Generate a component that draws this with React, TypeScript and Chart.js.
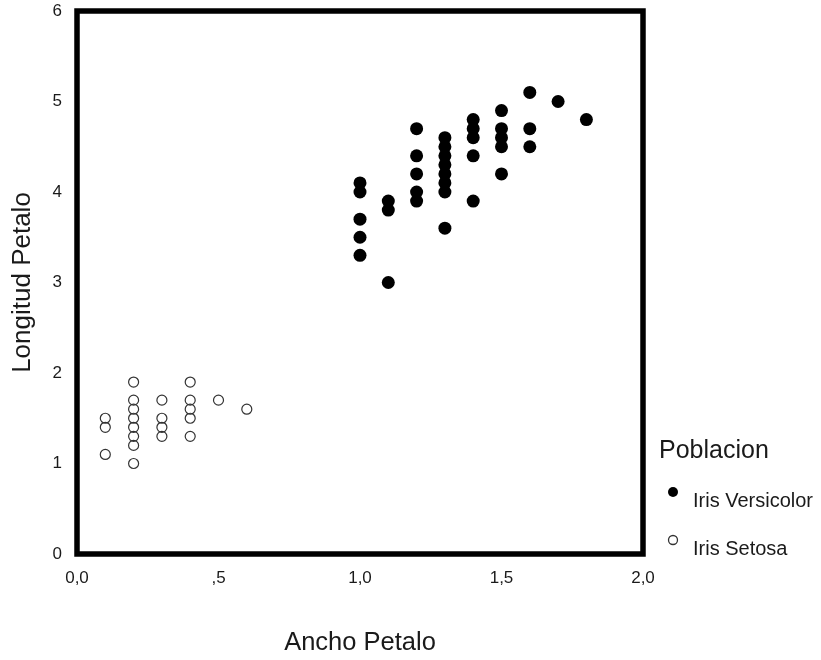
import React, { useEffect, useRef } from "react";
import { Chart, registerables } from "chart.js";

Chart.register(...registerables);

// Iris Versicolor: petal width (x) and petal length (y)
const versicolorWidth = [
  1.0, 1.0, 1.0, 1.0, 1.0,
  1.1, 1.1, 1.1,
  1.2, 1.2, 1.2, 1.2, 1.2,
  1.3, 1.3, 1.3, 1.3, 1.3, 1.3, 1.3, 1.3,
  1.4, 1.4, 1.4, 1.4, 1.4,
  1.5, 1.5, 1.5, 1.5, 1.5,
  1.6, 1.6, 1.6,
  1.7,
  1.8,
];
const versicolorLength = [
  3.3, 3.5, 3.7, 4.0, 4.1,
  3.0, 3.8, 3.9,
  3.9, 4.0, 4.2, 4.4, 4.7,
  3.6, 4.0, 4.1, 4.2, 4.3, 4.4, 4.5, 4.6,
  3.9, 4.4, 4.6, 4.7, 4.8,
  4.2, 4.5, 4.6, 4.7, 4.9,
  4.5, 4.7, 5.1,
  5.0,
  4.8,
];

// Iris Setosa: petal width (x) and petal length (y)
const setosaWidth = [
  0.1, 0.1, 0.1,
  0.2, 0.2, 0.2, 0.2, 0.2, 0.2, 0.2, 0.2,
  0.3, 0.3, 0.3, 0.3,
  0.4, 0.4, 0.4, 0.4, 0.4,
  0.5,
  0.6,
];
const setosaLength = [
  1.1, 1.4, 1.5,
  1.0, 1.2, 1.3, 1.4, 1.5, 1.6, 1.7, 1.9,
  1.3, 1.4, 1.5, 1.7,
  1.3, 1.5, 1.6, 1.7, 1.9,
  1.7,
  1.6,
];

const seriesLabels = ["Iris Versicolor", "Iris Setosa"];
const legendTitle = "Poblacion";
const xTitle = "Ancho Petalo";
const yTitle = "Longitud Petalo";
const xTickValues = [0, 0.5, 1, 1.5, 2];
const xTickLabels = ["0,0", ",5", "1,0", "1,5", "2,0"];
const yTickValues = [0, 1, 2, 3, 4, 5, 6];

const FONT = "'Liberation Sans', Arial, Helvetica, sans-serif";
const TEXT = "#1a1a1a";

const boxPlugin = {
  id: "frameBox",
  beforeDatasetsDraw(chart: any) {
    const { ctx, chartArea } = chart;
    ctx.save();
    ctx.strokeStyle = "#000";
    ctx.lineWidth = 5.5;
    ctx.strokeRect(
      chartArea.left,
      chartArea.top,
      chartArea.right - chartArea.left,
      chartArea.bottom - chartArea.top
    );
    ctx.restore();
  },
};

const legendPlugin = {
  id: "sideLegend",
  afterDraw(chart: any) {
    const { ctx } = chart;
    ctx.save();
    ctx.fillStyle = TEXT;
    ctx.textBaseline = "middle";
    ctx.textAlign = "left";
    ctx.font = `25px ${FONT}`;
    ctx.fillText(legendTitle, 659, 451);
    const rows = [
      { y: 501, filled: true },
      { y: 549, filled: false },
    ];
    chart.data.datasets.forEach((ds: any, i: number) => {
      const r = rows[i];
      ctx.beginPath();
      if (r.filled) {
        ctx.arc(673, r.y - 9, 5, 0, Math.PI * 2);
        ctx.fillStyle = "#000";
        ctx.fill();
      } else {
        ctx.arc(673, r.y - 9, 4.5, 0, Math.PI * 2);
        ctx.strokeStyle = "#333";
        ctx.lineWidth = 1.3;
        ctx.stroke();
      }
      ctx.fillStyle = TEXT;
      ctx.font = `20px ${FONT}`;
      ctx.fillText(ds.label, 693, r.y);
    });
    ctx.restore();
  },
};

export default function App() {
  const canvasRef = useRef<HTMLCanvasElement | null>(null);

  useEffect(() => {
    if (!canvasRef.current) return;
    const toPoints = (xs: number[], ys: number[]) =>
      xs.map((x, i) => ({ x, y: ys[i] }));

    const chart = new Chart(canvasRef.current, {
      type: "scatter",
      data: {
        datasets: [
          {
            label: seriesLabels[0],
            data: toPoints(versicolorWidth, versicolorLength),
            pointStyle: "circle",
            pointRadius: 6.5,
            backgroundColor: "#000",
            borderColor: "#000",
            borderWidth: 0,
          },
          {
            label: seriesLabels[1],
            data: toPoints(setosaWidth, setosaLength),
            pointStyle: "circle",
            pointRadius: 5,
            backgroundColor: "rgba(0,0,0,0)",
            borderColor: "#333",
            borderWidth: 1.2,
          },
        ],
      },
      options: {
        responsive: false,
        animation: false,
        layout: { padding: { top: 11, right: 178, bottom: 0, left: 0 } },
        plugins: {
          legend: { display: false },
          tooltip: { enabled: false },
        },
        scales: {
          x: {
            type: "linear",
            min: 0,
            max: 2,
            afterFit: (s: any) => {
              s.height = 106;
              s.paddingLeft = 0;
              s.paddingRight = 0;
            },
            afterBuildTicks: (s: any) => {
              s.ticks = xTickValues.map((v) => ({ value: v }));
            },
            grid: { display: false, drawTicks: false },
            border: { display: false },
            ticks: {
              padding: 14,
              color: TEXT,
              font: { family: FONT, size: 17 },
              maxRotation: 0,
              callback: (v: any) => {
                const i = xTickValues.indexOf(Number(v));
                return i >= 0 ? xTickLabels[i] : "";
              },
            },
            title: {
              display: true,
              text: xTitle,
              color: TEXT,
              font: { family: FONT, size: 25.5 },
              padding: { top: 0, bottom: 2 },
            },
          },
          y: {
            type: "linear",
            min: 0,
            max: 6,
            afterFit: (s: any) => {
              s.width = 77;
              s.paddingTop = 0;
              s.paddingBottom = 0;
            },
            afterBuildTicks: (s: any) => {
              s.ticks = yTickValues.map((v) => ({ value: v }));
            },
            grid: { display: false, drawTicks: false },
            border: { display: false },
            ticks: {
              padding: 15,
              color: TEXT,
              font: { family: FONT, size: 17 },
              callback: (v: any) => String(v),
            },
            title: {
              display: true,
              text: yTitle,
              color: TEXT,
              font: { family: FONT, size: 26 },
              padding: { top: 7, bottom: 0 },
            },
          },
        },
      },
      plugins: [boxPlugin, legendPlugin],
    });
    return () => chart.destroy();
  }, []);

  return (
    <div style={{ position: "absolute", left: 0, top: 0, width: 821, height: 660, background: "#fff" }}>
      <canvas ref={canvasRef} width={821} height={660} style={{ display: "block" }} />
    </div>
  );
}
